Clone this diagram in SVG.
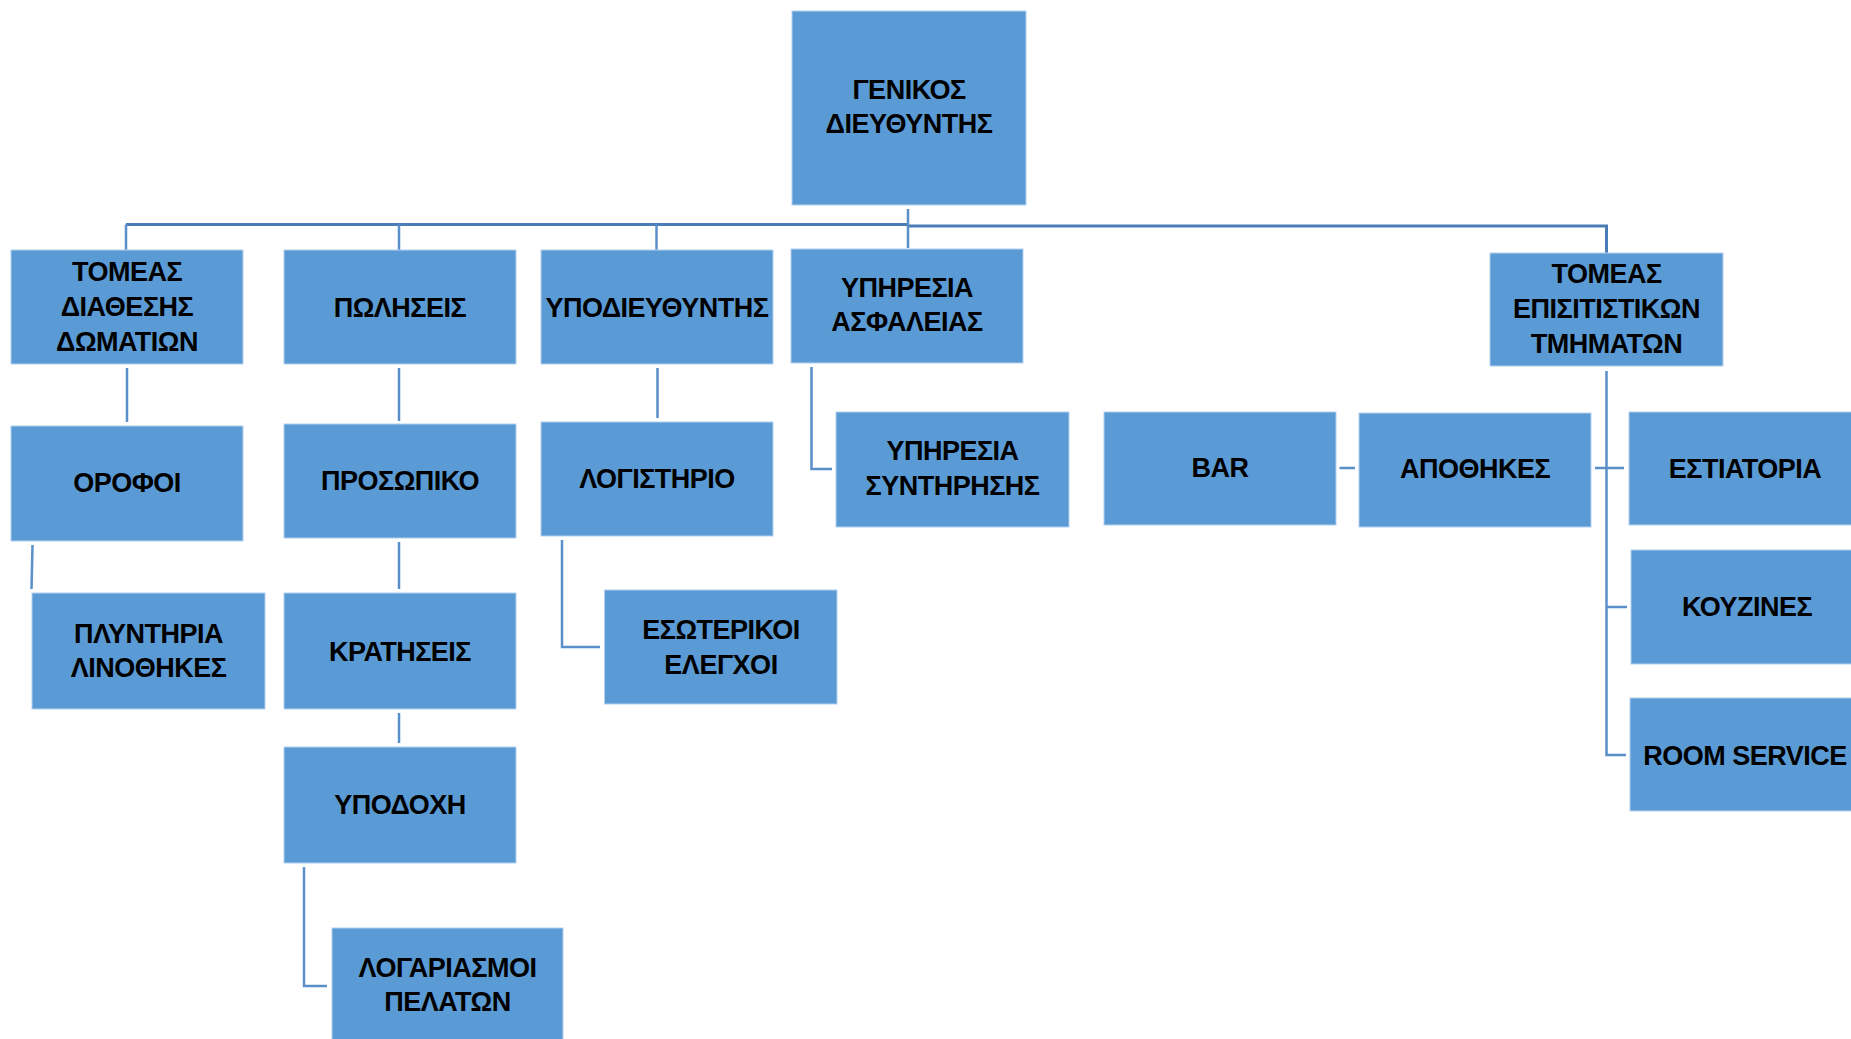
<svg xmlns="http://www.w3.org/2000/svg" width="1851" height="1039" viewBox="0 0 1851 1039">
<style>
.box{fill:#5b9bd5;stroke:#b4cfee;stroke-width:1}
.t{font-family:"Liberation Sans",Arial,sans-serif;font-weight:bold;font-size:27px;letter-spacing:-0.5px;fill:#000;text-anchor:middle}
.bus{fill:none;stroke:#4a7db5;stroke-width:3}
.c{fill:none;stroke:#5a8fc9;stroke-width:2.5}
</style>
<rect width="1851" height="1039" fill="#fff"/>
<g id="connectors">
<path class="bus" d="M126 224.5H908"/>
<path class="bus" d="M908 226H1606.5V253"/>
<path class="c" d="M908 209V248"/>
<path class="c" d="M126 224.5V250"/>
<path class="c" d="M399 224.5V250"/>
<path class="c" d="M656.5 224.5V250"/>
<path class="c" d="M127 368V422"/>
<path class="c" d="M399 368V421"/>
<path class="c" d="M657.5 368V418"/>
<path class="c" d="M32.5 545L31.5 589"/>
<path class="c" d="M399 542V589"/>
<path class="c" d="M399 713V743"/>
<path class="c" d="M304 867V986H327"/>
<path class="c" d="M562 540V647H600"/>
<path class="c" d="M811.5 367V469H832"/>
<path class="c" d="M1606.5 371V755H1626"/>
<path class="c" d="M1607 607H1627"/>
<path class="c" d="M1595 468H1624"/>
<path class="c" d="M1339.5 468H1355"/>
</g>
<g id="n-genikos"><rect class="box" x="792" y="11" width="234" height="194"/><text class="t" x="909" y="98.5">ΓΕΝΙΚΟΣ</text><text class="t" x="909" y="133">ΔΙΕΥΘΥΝΤΗΣ</text></g>
<g id="n-diathesis"><rect class="box" x="11" y="250" width="232" height="114"/><text class="t" x="127" y="281">ΤΟΜΕΑΣ</text><text class="t" x="127" y="316">ΔΙΑΘΕΣΗΣ</text><text class="t" x="127" y="351">ΔΩΜΑΤΙΩΝ</text></g>
<g id="n-poliseis"><rect class="box" x="284" y="250" width="232" height="114"/><text class="t" x="400" y="317">ΠΩΛΗΣΕΙΣ</text></g>
<g id="n-ypodieythyntis"><rect class="box" x="541" y="250" width="232" height="114"/><text class="t" x="657" y="317">ΥΠΟΔΙΕΥΘΥΝΤΗΣ</text></g>
<g id="n-asfaleias"><rect class="box" x="791" y="249" width="232" height="114"/><text class="t" x="907" y="296.5">ΥΠΗΡΕΣΙΑ</text><text class="t" x="907" y="331">ΑΣΦΑΛΕΙΑΣ</text></g>
<g id="n-episitistikon"><rect class="box" x="1490" y="253" width="233" height="113"/><text class="t" x="1606.5" y="283">ΤΟΜΕΑΣ</text><text class="t" x="1606.5" y="318">ΕΠΙΣΙΤΙΣΤΙΚΩΝ</text><text class="t" x="1606.5" y="353">ΤΜΗΜΑΤΩΝ</text></g>
<g id="n-orofoi"><rect class="box" x="11" y="426" width="232" height="115"/><text class="t" x="127" y="492">ΟΡΟΦΟΙ</text></g>
<g id="n-prosopiko"><rect class="box" x="284" y="424" width="232" height="114"/><text class="t" x="400" y="490">ΠΡΟΣΩΠΙΚΟ</text></g>
<g id="n-logistirio"><rect class="box" x="541" y="422" width="232" height="114"/><text class="t" x="657" y="488">ΛΟΓΙΣΤΗΡΙΟ</text></g>
<g id="n-syntirisis"><rect class="box" x="836" y="412" width="233" height="115"/><text class="t" x="952.5" y="460">ΥΠΗΡΕΣΙΑ</text><text class="t" x="952.5" y="495">ΣΥΝΤΗΡΗΣΗΣ</text></g>
<g id="n-bar"><rect class="box" x="1104" y="412" width="232" height="113"/><text class="t" x="1220" y="477">BAR</text></g>
<g id="n-apothikes"><rect class="box" x="1359" y="413" width="232" height="114"/><text class="t" x="1475" y="478">ΑΠΟΘΗΚΕΣ</text></g>
<g id="n-estiatoria"><rect class="box" x="1629" y="412" width="232" height="113"/><text class="t" x="1745" y="478">ΕΣΤΙΑΤΟΡΙΑ</text></g>
<g id="n-kouzines"><rect class="box" x="1631" y="550" width="232" height="114"/><text class="t" x="1747" y="616">ΚΟΥΖΙΝΕΣ</text></g>
<g id="n-roomservice"><rect class="box" x="1630" y="698" width="232" height="113"/><text class="t" x="1745" y="765">ROOM SERVICE</text></g>
<g id="n-plyntiria"><rect class="box" x="32" y="593" width="233" height="116"/><text class="t" x="148.5" y="642.5">ΠΛΥΝΤΗΡΙΑ</text><text class="t" x="148.5" y="676.5">ΛΙΝΟΘΗΚΕΣ</text></g>
<g id="n-kratiseis"><rect class="box" x="284" y="593" width="232" height="116"/><text class="t" x="400" y="661">ΚΡΑΤΗΣΕΙΣ</text></g>
<g id="n-esoterikoi"><rect class="box" x="604.5" y="590" width="232.5" height="114"/><text class="t" x="721" y="639">ΕΣΩΤΕΡΙΚΟΙ</text><text class="t" x="721" y="674">ΕΛΕΓΧΟΙ</text></g>
<g id="n-ypodoxi"><rect class="box" x="284" y="747" width="232" height="116"/><text class="t" x="400" y="814">ΥΠΟΔΟΧΗ</text></g>
<g id="n-logariasmoi"><rect class="box" x="332" y="928" width="231" height="116"/><text class="t" x="447.5" y="976.5">ΛΟΓΑΡΙΑΣΜΟΙ</text><text class="t" x="447.5" y="1011">ΠΕΛΑΤΩΝ</text></g>
</svg>
